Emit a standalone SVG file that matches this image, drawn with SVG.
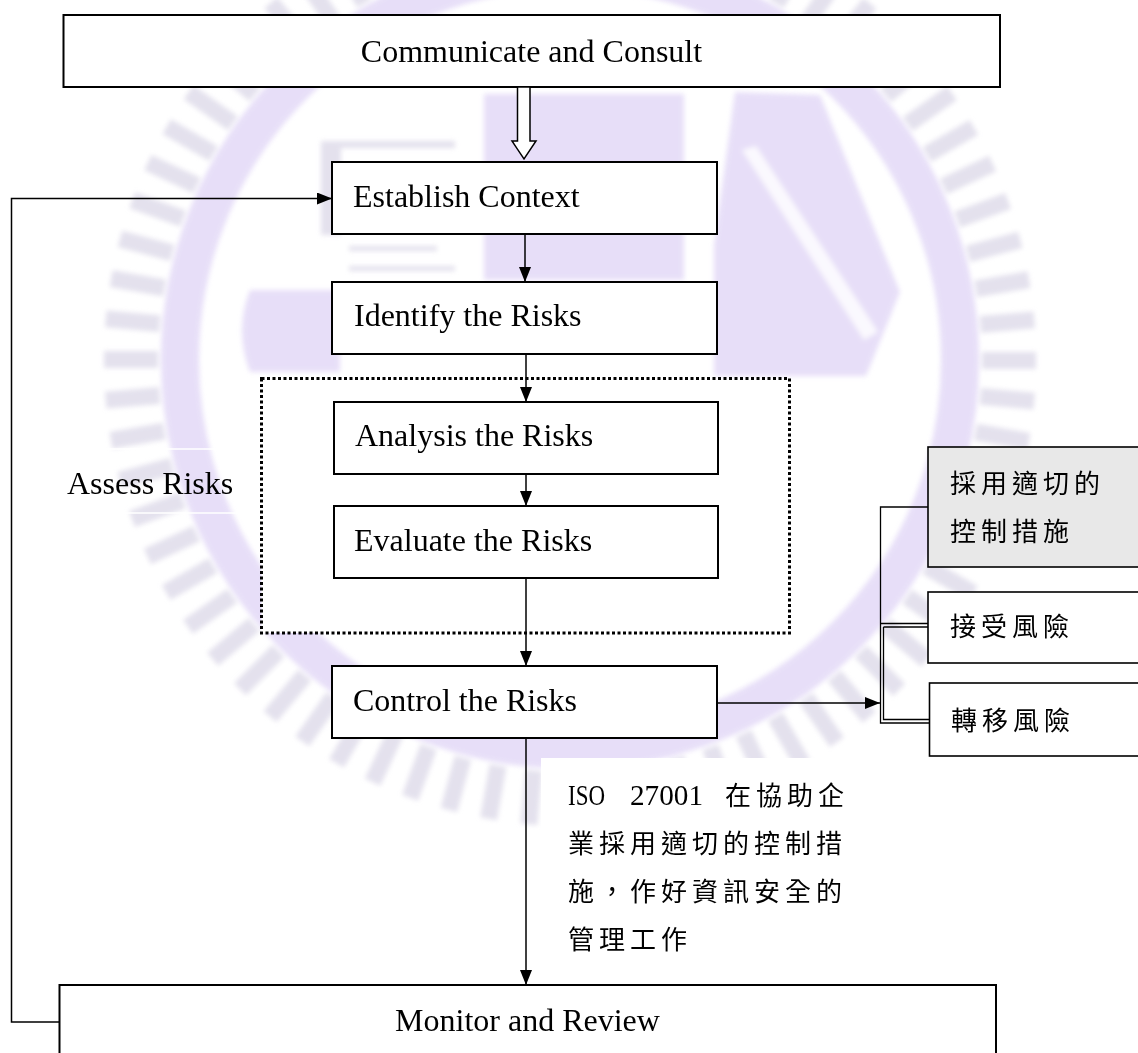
<svg xmlns="http://www.w3.org/2000/svg" xmlns:xlink="http://www.w3.org/1999/xlink" width="1138" height="1053" viewBox="0 0 1138 1053">
  <style>
    .box { fill: #ffffff; stroke: #000000; stroke-width: 2; }
    .side { stroke-width: 1.6; }
    .grey { fill: #e8e8e8; }
    .en { font-family: "Liberation Serif", "Times New Roman", serif; font-size: 32px; fill: #000000; }
    .zh { font-family: "Liberation Serif", "Noto Sans CJK TC", serif; font-size: 26px; letter-spacing: 5px; fill: #000000; }
    .lat { font-family: "Liberation Serif", "Noto Sans CJK TC", serif; font-size: 29px; fill: #000000; }
    .wire { fill: none; stroke: #000000; stroke-width: 1.5; }
    .thin { fill: none; stroke: #000000; stroke-width: 1.3; }
    .lav { fill: #e3d9f7; }
    .gry { fill: #dfdcea; }
  </style>
  <defs>
    <marker id="head" markerUnits="userSpaceOnUse" markerWidth="15" markerHeight="12" refX="15" refY="6" orient="auto">
      <path d="M0,0 L15,6 L0,12 Z" fill="#000000"/>
    </marker>
    <filter id="soft" x="-10%" y="-10%" width="120%" height="120%">
      <feGaussianBlur stdDeviation="2.5"/>
    </filter>
    <rect id="tooth" x="982" y="352" width="54" height="17"/>
  </defs>

  <rect width="1138" height="1053" fill="#ffffff"/>

  <!-- faint emblem behind the chart -->
  <g id="watermark" filter="url(#soft)" opacity="0.85">
    <circle cx="570" cy="360" r="390" fill="none" stroke="#e3d9f7" stroke-width="38"/>
    <g class="gry">
      <use xlink:href="#tooth" transform="rotate(0 570 360)"/>
      <use xlink:href="#tooth" transform="rotate(5 570 360)"/>
      <use xlink:href="#tooth" transform="rotate(10 570 360)"/>
      <use xlink:href="#tooth" transform="rotate(15 570 360)"/>
      <use xlink:href="#tooth" transform="rotate(20 570 360)"/>
      <use xlink:href="#tooth" transform="rotate(25 570 360)"/>
      <use xlink:href="#tooth" transform="rotate(30 570 360)"/>
      <use xlink:href="#tooth" transform="rotate(35 570 360)"/>
      <use xlink:href="#tooth" transform="rotate(40 570 360)"/>
      <use xlink:href="#tooth" transform="rotate(45 570 360)"/>
      <use xlink:href="#tooth" transform="rotate(50 570 360)"/>
      <use xlink:href="#tooth" transform="rotate(55 570 360)"/>
      <use xlink:href="#tooth" transform="rotate(60 570 360)"/>
      <use xlink:href="#tooth" transform="rotate(65 570 360)"/>
      <use xlink:href="#tooth" transform="rotate(70 570 360)"/>
      <use xlink:href="#tooth" transform="rotate(75 570 360)"/>
      <use xlink:href="#tooth" transform="rotate(80 570 360)"/>
      <use xlink:href="#tooth" transform="rotate(85 570 360)"/>
      <use xlink:href="#tooth" transform="rotate(90 570 360)"/>
      <use xlink:href="#tooth" transform="rotate(95 570 360)"/>
      <use xlink:href="#tooth" transform="rotate(100 570 360)"/>
      <use xlink:href="#tooth" transform="rotate(105 570 360)"/>
      <use xlink:href="#tooth" transform="rotate(110 570 360)"/>
      <use xlink:href="#tooth" transform="rotate(115 570 360)"/>
      <use xlink:href="#tooth" transform="rotate(120 570 360)"/>
      <use xlink:href="#tooth" transform="rotate(125 570 360)"/>
      <use xlink:href="#tooth" transform="rotate(130 570 360)"/>
      <use xlink:href="#tooth" transform="rotate(135 570 360)"/>
      <use xlink:href="#tooth" transform="rotate(140 570 360)"/>
      <use xlink:href="#tooth" transform="rotate(145 570 360)"/>
      <use xlink:href="#tooth" transform="rotate(150 570 360)"/>
      <use xlink:href="#tooth" transform="rotate(155 570 360)"/>
      <use xlink:href="#tooth" transform="rotate(160 570 360)"/>
      <use xlink:href="#tooth" transform="rotate(165 570 360)"/>
      <use xlink:href="#tooth" transform="rotate(170 570 360)"/>
      <use xlink:href="#tooth" transform="rotate(175 570 360)"/>
      <use xlink:href="#tooth" transform="rotate(180 570 360)"/>
      <use xlink:href="#tooth" transform="rotate(185 570 360)"/>
      <use xlink:href="#tooth" transform="rotate(190 570 360)"/>
      <use xlink:href="#tooth" transform="rotate(195 570 360)"/>
      <use xlink:href="#tooth" transform="rotate(200 570 360)"/>
      <use xlink:href="#tooth" transform="rotate(205 570 360)"/>
      <use xlink:href="#tooth" transform="rotate(210 570 360)"/>
      <use xlink:href="#tooth" transform="rotate(215 570 360)"/>
      <use xlink:href="#tooth" transform="rotate(220 570 360)"/>
      <use xlink:href="#tooth" transform="rotate(225 570 360)"/>
      <use xlink:href="#tooth" transform="rotate(230 570 360)"/>
      <use xlink:href="#tooth" transform="rotate(235 570 360)"/>
      <use xlink:href="#tooth" transform="rotate(240 570 360)"/>
      <use xlink:href="#tooth" transform="rotate(245 570 360)"/>
      <use xlink:href="#tooth" transform="rotate(250 570 360)"/>
      <use xlink:href="#tooth" transform="rotate(255 570 360)"/>
      <use xlink:href="#tooth" transform="rotate(260 570 360)"/>
      <use xlink:href="#tooth" transform="rotate(265 570 360)"/>
      <use xlink:href="#tooth" transform="rotate(270 570 360)"/>
      <use xlink:href="#tooth" transform="rotate(275 570 360)"/>
      <use xlink:href="#tooth" transform="rotate(280 570 360)"/>
      <use xlink:href="#tooth" transform="rotate(285 570 360)"/>
      <use xlink:href="#tooth" transform="rotate(290 570 360)"/>
      <use xlink:href="#tooth" transform="rotate(295 570 360)"/>
      <use xlink:href="#tooth" transform="rotate(300 570 360)"/>
      <use xlink:href="#tooth" transform="rotate(305 570 360)"/>
      <use xlink:href="#tooth" transform="rotate(310 570 360)"/>
      <use xlink:href="#tooth" transform="rotate(315 570 360)"/>
      <use xlink:href="#tooth" transform="rotate(320 570 360)"/>
      <use xlink:href="#tooth" transform="rotate(325 570 360)"/>
      <use xlink:href="#tooth" transform="rotate(330 570 360)"/>
      <use xlink:href="#tooth" transform="rotate(335 570 360)"/>
      <use xlink:href="#tooth" transform="rotate(340 570 360)"/>
      <use xlink:href="#tooth" transform="rotate(345 570 360)"/>
      <use xlink:href="#tooth" transform="rotate(350 570 360)"/>
      <use xlink:href="#tooth" transform="rotate(355 570 360)"/>
    </g>
    <!-- inner emblem shapes -->
    <polygon class="lav" points="735,92 820,95 900,292 866,376 714,376 714,245"/>
    <polygon fill="#ffffff" opacity="0.8" points="742,150 756,146 878,332 864,340"/>
    <path class="lav" d="M250,290 H340 V372 H250 Q234,330 250,290 Z"/>
    <rect class="lav" x="484" y="94" width="200" height="186"/>
    <rect class="gry" x="321" y="141" width="20" height="94"/>
    <rect class="gry" x="327" y="141" width="128" height="7"/>
    <rect class="gry" x="349" y="246" width="88" height="5"/>
    <rect class="gry" x="349" y="266" width="106" height="5"/>
  </g>

  <!-- white background behind the note text -->
  <rect x="541" y="758" width="345" height="225" fill="#ffffff"/>
  <!-- frame of the "Assess Risks" label -->
  <rect x="60" y="449" width="185" height="64" fill="none" stroke="#ffffff" stroke-width="1.5"/>

  <!-- assessment group frame -->
  <g id="assess-group">
    <rect x="261.5" y="378.5" width="528" height="254.5" fill="#ffffff" stroke="#000000" stroke-width="3" stroke-dasharray="3 2.5"/>
    <text class="en" x="67" y="494">Assess Risks</text>
  </g>

  <g id="communicate">
    <rect class="box" x="63.5" y="15" width="936.5" height="72"/>
    <text class="en" x="531.5" y="62" text-anchor="middle">Communicate and Consult</text>
  </g>

  <g id="establish">
    <rect class="box" x="332" y="162" width="385" height="72"/>
    <text class="en" x="353" y="207">Establish Context</text>
  </g>

  <g id="identify">
    <rect class="box" x="332" y="282" width="385" height="72"/>
    <text class="en" x="354" y="326">Identify the Risks</text>
  </g>

  <g id="analysis">
    <rect class="box" x="334" y="402" width="384" height="72"/>
    <text class="en" x="355" y="446">Analysis the Risks</text>
  </g>

  <g id="evaluate">
    <rect class="box" x="334" y="506" width="384" height="72"/>
    <text class="en" x="354" y="551">Evaluate the Risks</text>
  </g>

  <g id="control">
    <rect class="box" x="332" y="666" width="385" height="72"/>
    <text class="en" x="353" y="711">Control the Risks</text>
  </g>

  <g id="monitor">
    <rect class="box" x="59.5" y="985" width="936.5" height="90"/>
    <text class="en" x="527.5" y="1031" text-anchor="middle">Monitor and Review</text>
  </g>

  <g id="adopt-controls">
    <rect class="box side grey" x="928" y="447" width="260" height="120"/>
    <text class="zh" x="950" y="493">採用適切的</text>
    <text class="zh" x="950" y="541">控制措施</text>
  </g>

  <g id="accept-risk">
    <rect class="box side" x="928" y="592" width="260" height="71"/>
    <text class="zh" x="950" y="636">接受風險</text>
  </g>

  <g id="transfer-risk">
    <rect class="box side" x="929.5" y="683" width="260" height="73"/>
    <text class="zh" x="951" y="730">轉移風險</text>
  </g>

  <g id="note">
    <text y="805"><tspan class="lat" x="568" textLength="37" lengthAdjust="spacingAndGlyphs">ISO</tspan><tspan class="lat" x="630" textLength="73" lengthAdjust="spacingAndGlyphs">27001</tspan><tspan class="zh" x="725">在協助企</tspan></text>
    <text class="zh" x="568" y="853">業採用適切的控制措</text>
    <text class="zh" x="568" y="901">施，作好資訊安全的</text>
    <text class="zh" x="568" y="949">管理工作</text>
  </g>

  <g id="connectors">
    <!-- hollow block arrow from the consult band -->
    <polygon points="517.5,87 530,87 530,141 536,141 524,159 512,141 517.5,141" fill="#ffffff" stroke="#000000" stroke-width="1.5"/>
    <path class="wire" d="M525,234 V282" marker-end="url(#head)"/>
    <path class="wire" d="M526,354 V402" marker-end="url(#head)"/>
    <path class="wire" d="M526,474 V506" marker-end="url(#head)"/>
    <path class="wire" d="M526,578 V666" marker-end="url(#head)"/>
    <path class="wire" d="M526,738 V985" marker-end="url(#head)"/>
    <!-- feedback loop back to the context step -->
    <path class="wire" d="M59.5,1022 H11.5 V198.5 H332" marker-end="url(#head)"/>
    <!-- branch to the treatment options -->
    <path class="wire" d="M717,703 H880" marker-end="url(#head)"/>
    <path class="thin" d="M928,507 H880.5 V723 H930"/>
    <path class="thin" d="M880.5,623.5 H928"/>
    <path class="thin" d="M883.5,627 H928"/>
    <path class="thin" d="M883.5,627 V719.5 H930"/>
  </g>
</svg>
